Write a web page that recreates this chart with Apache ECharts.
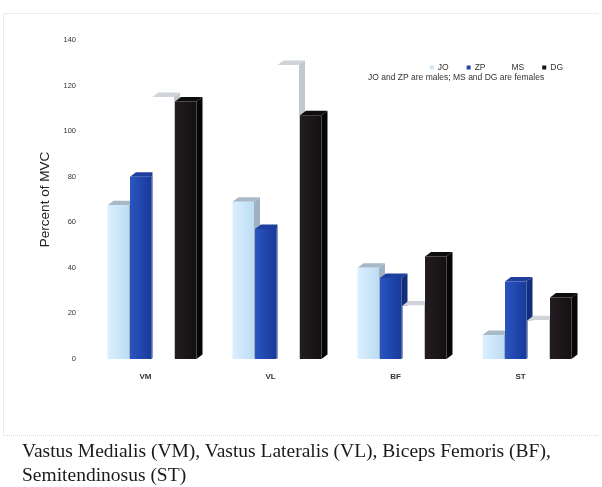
<!DOCTYPE html>
<html>
<head>
<meta charset="utf-8">
<script src="https://cdn.jsdelivr.net/npm/echarts@6/dist/echarts.min.js"></script>
<style>
  html, body { margin: 0; padding: 0; background: #fff; }
  #page { position: relative; width: 602px; height: 487px; overflow: hidden; background: #fff; }
  #frame { position: absolute; left: 3px; top: 13px; width: 594px; height: 421px;
           border-top: 1px dotted #d8d8d8; border-bottom: 1px dotted #d8d8d8; border-left: 1px solid #ececec; }
  #chart { position: absolute; left: 0; top: 0; width: 602px; height: 440px; }
  #caption { position: absolute; left: 22px; top: 439px; width: 580px; white-space: nowrap;
             font-family: "Liberation Serif", "DejaVu Serif", serif; font-size: 19.5px; line-height: 24px; color: #1a1a1a; }
</style>
</head>
<body>
<div id="page">
  <div id="frame"></div>
  <div id="chart"></div>
  <div id="caption">Vastus Medialis (VM), Vastus Lateralis (VL), Biceps Femoris (BF),<br>Semitendinosus (ST)</div>
</div>
<script>
// Muscles on the x axis and subjects as series
const muscles = ['VM', 'VL', 'BF', 'ST'];
const subjects = ['JO', 'ZP', 'MS', 'DG'];
const valuesJO = [67.5, 69, 40, 10.5];
const valuesZP = [80, 57, 35.5, 34];
const valuesMS = [115, 129, 23.5, 17];
const valuesDG = [113, 107, 45, 27];
const yTicks = [0, 20, 40, 60, 80, 100, 120, 140];

const seriesValues = [valuesJO, valuesZP, valuesMS, valuesDG];

// front / top / side colours for the pseudo-3D columns
const palette = [
  { front: ['#dcefff', '#bcdcf3'], top: '#a9b8c6', side: '#9fb1c2', legend: '#cfe6f7' },
  { front: ['#2a55c0', '#17399a'], top: '#1e3f9c', side: '#142f7a', legend: '#1f45a8' },
  { front: ['#ffffff', '#ffffff'], top: '#d0d4da', side: '#c3c8cf', legend: '#ffffff' },
  { front: ['#231d20', '#141012'], top: '#0e0c0d', side: '#070606', legend: '#111111' }
];

function makeRender(idx) {
  return function (params, api) {
    const cat = api.value(0);
    const val = api.value(1);
    const base = api.coord([cat, 0]);
    const topPt = api.coord([cat, val]);
    const band = api.size([1, 0])[0];
    const w = band * 0.172;
    const step = band * 0.18;
    const x0 = base[0] - band * 0.304 + idx * step;
    const yT = topPt[1];
    const yB = base[1];
    const dx = 6, dy = 4.5;
    const c = palette[idx];
    return {
      type: 'group',
      children: [
        {
          type: 'polygon',
          shape: { points: [[x0 + w, yT], [x0 + w + dx, yT - dy], [x0 + w + dx, yB - dy], [x0 + w, yB]] },
          style: { fill: c.side }
        },
        {
          type: 'polygon',
          shape: { points: [[x0, yT], [x0 + dx, yT - dy], [x0 + w + dx, yT - dy], [x0 + w, yT]] },
          style: { fill: c.top }
        },
        {
          type: 'rect',
          shape: { x: x0, y: yT, width: w, height: yB - yT },
          style: {
            fill: new echarts.graphic.LinearGradient(0, 0, 1, 0, [
              { offset: 0, color: c.front[0] },
              { offset: 1, color: c.front[1] }
            ])
          }
        }
      ]
    };
  };
}

const chart = echarts.init(document.getElementById('chart'), null, { renderer: 'canvas' });

const series = subjects.map((name, i) => ({
  name: name,
  type: 'custom',
  renderItem: makeRender(i),
  encode: { x: 0, y: 1 },
  data: seriesValues[i].map((v, k) => [k, v]),
  itemStyle: { color: palette[i].legend },
  z: 2 + i
}));

chart.setOption({
  animation: false,
  backgroundColor: 'transparent',
  textStyle: { fontFamily: 'Liberation Sans, Arial, sans-serif' },
  grid: { left: 83, right: 19, top: 40, bottom: 81, containLabel: false },
  legend: {
    data: subjects.map((s, i) => ({ name: s, itemStyle: { color: palette[i].legend } })),
    right: 34, top: 58,
    icon: 'rect', itemWidth: 4, itemHeight: 4, itemGap: 18,
    textStyle: { fontSize: 8.5, color: '#333', padding: [0, 0, 0, -1] }
  },
  graphic: [{
    type: 'text', left: 368, top: 73,
    style: { text: 'JO and ZP are males; MS and DG are females', fontSize: 8.5, fill: '#333',
             fontFamily: 'Liberation Sans, Arial, sans-serif' }
  }],
  xAxis: {
    type: 'category', data: muscles,
    axisLine: { show: false }, axisTick: { show: false },
    axisLabel: { fontSize: 8, fontWeight: 'bold', color: '#333', margin: 14 }
  },
  yAxis: {
    type: 'value', min: yTicks[0], max: yTicks[yTicks.length - 1], interval: 20,
    name: 'Percent of MVC', nameLocation: 'middle', nameGap: 22, nameRotate: 90,
    nameTextStyle: { fontSize: 13.5, color: '#222' },
    axisLine: { show: false }, axisTick: { show: false }, splitLine: { show: false },
    axisLabel: { fontSize: 7.5, color: '#333', margin: 7 }
  },
  series: series
});
</script>
</body>
</html>
